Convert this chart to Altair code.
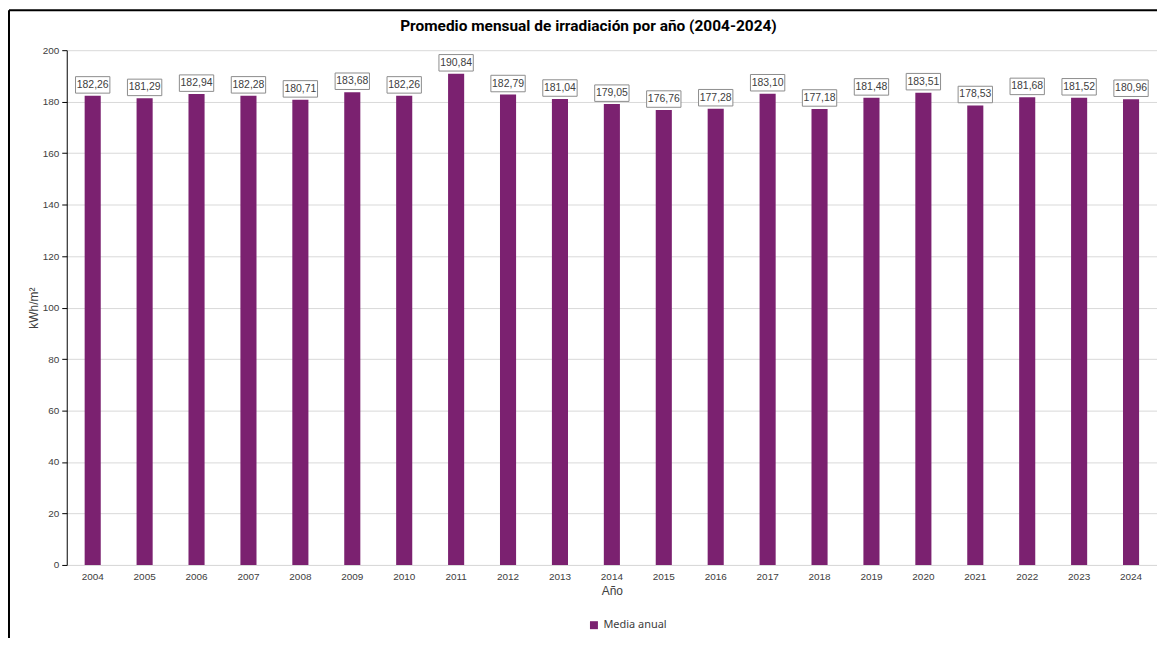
import altair as alt
import pandas as pd

years = [str(y) for y in range(2004, 2025)]
values = [182.26, 181.29, 182.94, 182.28, 180.71, 183.68, 182.26, 190.84, 182.79, 181.04,
          179.05, 176.76, 177.28, 183.10, 177.18, 181.48, 183.51, 178.53, 181.68, 181.52, 180.96]
series_name = ["Media anual"] * len(years)
y_ticks = list(range(0, 201, 20))
chart_title = "Promedio mensual de irradiación por año (2004-2024)"

df = pd.DataFrame({"Año": years, "valor": values, "serie": series_name})

W, H = 1095, 517
BAR = "#7B2170"
TXT = "#404040"

base = alt.Chart(df)

bars = base.mark_bar(color=BAR).encode(
    x=alt.X("Año:N", sort=years,
            scale=alt.Scale(paddingInner=0.69, paddingOuter=0.345),
            axis=alt.Axis(title="Año", labelAngle=0, ticks=False, domainColor="#d9d9d9",
                          labelFontSize=10, labelColor=TXT, labelPadding=7,
                          titleFontSize=12, titleColor=TXT, titleFontWeight="normal",
                          titlePadding=4, labelFont="Liberation Sans", titleFont="Liberation Sans")),
    y=alt.Y("valor:Q", scale=alt.Scale(domain=[0, 200], nice=False),
            axis=alt.Axis(title="kWh/m²", values=y_ticks, domainColor="black", tickColor="black",
                          tickSize=5, labelFontSize=10, labelColor=TXT, labelPadding=3,
                          gridColor="#d9d9d9", titleFontSize=12, titleColor=TXT,
                          titleFontWeight="normal", titleX=-26, labelFont="Liberation Sans",
                          titleFont="Liberation Sans")),
    color=alt.Color("serie:N", scale=alt.Scale(range=[BAR]),
                    legend=alt.Legend(title=None, orient="none", legendX=524, legendY=572,
                                      symbolType="square", symbolSize=64, labelFontSize=11,
                                      labelOffset=4,
                                      labelColor=TXT, labelFont="Noto Sans", symbolStrokeWidth=0)),
)

boxes = base.mark_point(
    shape="M-1,-0.48L1,-0.48L1,0.48L-1,0.48Z", size=1190, filled=False,
    fill="white", fillOpacity=1, stroke="#8c8c8c", strokeWidth=1, opacity=1, yOffset=-11
).encode(
    x=alt.X("Año:N", sort=years),
    y="valor:Q",
)

labels = base.transform_calculate(
    etiqueta="replace(format(datum.valor, '.2f'), '.', ',')"
).mark_text(fontSize=10.5, color=TXT, baseline="middle", dy=-11, font="Liberation Sans").encode(
    x=alt.X("Año:N", sort=years),
    y="valor:Q",
    text="etiqueta:N",
)

frame_df = pd.DataFrame({"k": [0], "t": [chart_title]})
top_line = alt.Chart(frame_df).mark_rule(color="black", strokeWidth=2).encode(
    x=alt.value(-58), x2=alt.value(W + 10), y=alt.value(-40)
)
left_line = alt.Chart(frame_df).mark_rule(color="black", strokeWidth=2).encode(
    x=alt.value(-58), y=alt.value(-40), y2=alt.value(H + 80)
)
title_mark = alt.Chart(frame_df).mark_text(
    font="Roboto", fontSize=15.5, fontWeight="bold", color="black", baseline="middle", align="center"
).encode(x=alt.value(524), y=alt.value(-24), text="t:N")

chart = alt.layer(bars, boxes, labels, top_line, left_line, title_mark).properties(
    width=W, height=H,
    padding={"left": 59, "top": 41, "right": 0, "bottom": 72},
    autosize=alt.AutoSizeParams(type="none"),
).configure_view(stroke=None)

chart.save("out.html", embed_options={"renderer": "svg", "actions": False})
